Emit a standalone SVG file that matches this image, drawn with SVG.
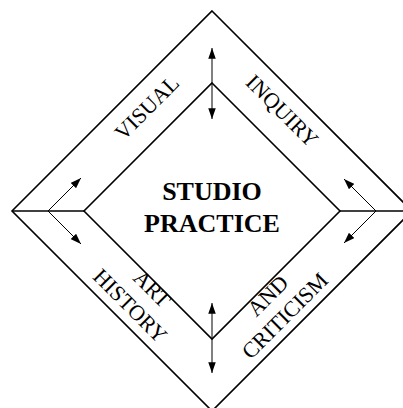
<svg xmlns="http://www.w3.org/2000/svg" width="403" height="408" viewBox="0 0 403 408">
<style>
.frame{fill:none;stroke:#000;stroke-width:1.6}
.arrow{stroke:#000;stroke-width:1;fill:none;marker-start:url(#ah);marker-end:url(#ah)}
.arrow1{stroke:#000;stroke-width:1;fill:none;marker-end:url(#ah)}
.lbl{font-family:"Liberation Serif","Times New Roman",serif;font-size:22px;fill:#000;text-anchor:middle}
.title{font-family:"Liberation Serif","Times New Roman",serif;font-size:26px;font-weight:bold;fill:#000;text-anchor:middle}
</style>
<defs>
<marker id="ah" viewBox="0 0 10 7" refX="10" refY="3.5" markerWidth="11" markerHeight="7.5" markerUnits="userSpaceOnUse" orient="auto-start-reverse">
<path d="M0,0 L10,3.5 L0,7 z" fill="#000"/>
</marker>
</defs>
<g id="outer-frame">
<path class="frame" d="M212,11 L412,211 L212,411 L12,211 Z"/>
<line class="frame" x1="12" y1="211" x2="84" y2="211"/>
<line class="frame" x1="340" y1="211" x2="412" y2="211"/>
</g>
<g id="studio-practice">
<path class="frame" d="M212,83 L340,211 L212,339 L84,211 Z"/>
<text class="title" x="212" y="200">STUDIO</text>
<text class="title" x="212" y="232">PRACTICE</text>
</g>
<g id="visual-inquiry">
<text class="lbl" transform="translate(152,113) rotate(-45)">VISUAL</text>
<text class="lbl" transform="translate(277,116) rotate(45)">INQUIRY</text>
</g>
<g id="art-history">
<text class="lbl" transform="translate(147,294) rotate(45)">ART</text>
<text class="lbl" transform="translate(125,311) rotate(45)">HISTORY</text>
</g>
<g id="and-criticism">
<text class="lbl" transform="translate(273,301) rotate(-45)">AND</text>
<text class="lbl" transform="translate(290,321) rotate(-45)">CRITICISM</text>
</g>
<g id="connectors">
<line class="arrow" x1="212" y1="48" x2="212" y2="119"/>
<line class="arrow" x1="212" y1="303" x2="212" y2="373"/>
<line class="arrow1" x1="48" y1="211" x2="81" y2="178"/>
<line class="arrow1" x1="48" y1="211" x2="81" y2="244"/>
<line class="arrow1" x1="376" y1="211" x2="344" y2="179"/>
<line class="arrow1" x1="376" y1="211" x2="344" y2="243"/>
</g>
</svg>
